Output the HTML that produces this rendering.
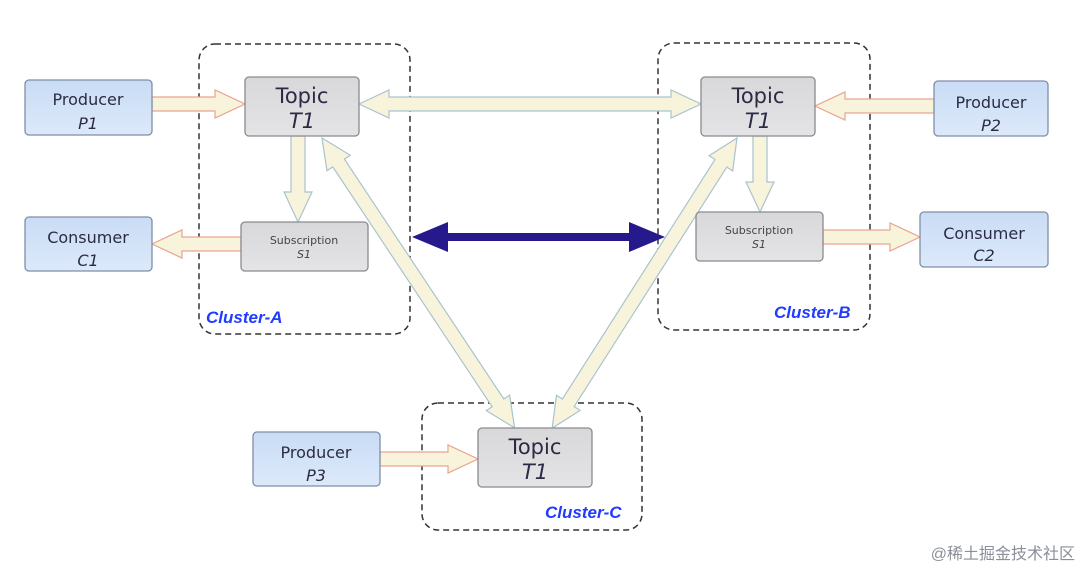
<!DOCTYPE html>
<html><head><meta charset="utf-8"><style>
html,body{margin:0;padding:0;background:#fff;}
svg{display:block;font-family:"DejaVu Sans","Liberation Sans",sans-serif;}
</style></head><body>
<svg width="1080" height="582" viewBox="0 0 1080 582" xmlns="http://www.w3.org/2000/svg">
<defs>
<linearGradient id="blue" x1="0" y1="0" x2="0" y2="1"><stop offset="0" stop-color="#c9dcf5"/><stop offset="1" stop-color="#dce9fa"/></linearGradient>
<linearGradient id="gray" x1="0" y1="0" x2="0" y2="1"><stop offset="0" stop-color="#d8d8da"/><stop offset="1" stop-color="#e4e4e6"/></linearGradient>
</defs>
<rect width="1080" height="582" fill="#fff"/>
<g fill="none" stroke="#333" stroke-width="1.5" stroke-dasharray="6,4">
<rect x="199" y="44" width="211" height="290" rx="16"/>
<rect x="658" y="43" width="212" height="287" rx="16"/>
<rect x="422" y="403" width="220" height="127" rx="16"/>
</g>
<g font-family="Liberation Sans,sans-serif" font-weight="bold" font-style="italic" font-size="17" fill="#1f3cff">
<text x="206" y="323">Cluster-A</text>
<text x="774" y="318">Cluster-B</text>
<text x="545" y="518">Cluster-C</text>
</g>
<g fill="#f8f4dc" stroke="#e9a391" stroke-width="1.2">
<polygon transform="translate(152,104)" points="0,-7 63,-7 63,-14 93,0 63,14 63,7 0,7"/>
<polygon transform="translate(241,244) rotate(180)" points="0,-7 59,-7 59,-14 89,0 59,14 59,7 0,7"/>
<polygon transform="translate(934,106) rotate(180)" points="0,-7 89,-7 89,-14 119,0 89,14 89,7 0,7"/>
<polygon transform="translate(823,237)" points="0,-7 67,-7 67,-14 97,0 67,14 67,7 0,7"/>
<polygon transform="translate(380,459)" points="0,-7 68,-7 68,-14 98,0 68,14 68,7 0,7"/>
</g>
<g fill="#f8f4dc" stroke="#a9c3cf" stroke-width="1.2">
<polygon transform="translate(298,136) rotate(90)" points="0,-7 56,-7 56,-14 86,0 56,14 56,7 0,7"/>
<polygon transform="translate(760,136) rotate(90)" points="0,-7 46,-7 46,-14 76,0 46,14 46,7 0,7"/>
<polygon transform="translate(359,104)" points="0,0 30,-14 30,-7 312,-7 312,-14 342,0 312,14 312,7 30,7 30,14"/>
<polygon transform="translate(322,138) rotate(56.4)" points="0,0 30,-14 30,-7 318,-7 318,-14 348,0 318,14 318,7 30,7 30,14"/>
<polygon transform="translate(737,138) rotate(122.5)" points="0,0 30,-14 30,-7 314,-7 314,-14 344,0 314,14 314,7 30,7 30,14"/>
</g>
<polygon transform="translate(412,237)" fill="#25198c" points="0,0 36,-15 36,-4 217,-4 217,-15 253,0 217,15 217,4 36,4 36,15"/>
<g stroke="#7f8ea6" stroke-width="1.3">
<rect x="25" y="80" width="127" height="55" rx="4" fill="url(#blue)"/>
<rect x="25" y="217" width="127" height="54" rx="4" fill="url(#blue)"/>
<rect x="934" y="81" width="114" height="55" rx="4" fill="url(#blue)"/>
<rect x="920" y="212" width="128" height="55" rx="4" fill="url(#blue)"/>
<rect x="253" y="432" width="127" height="54" rx="4" fill="url(#blue)"/>
</g>
<g stroke="#8a8a90" stroke-width="1.3" fill="url(#gray)">
<rect x="245" y="77" width="114" height="59" rx="4"/>
<rect x="241" y="222" width="127" height="49" rx="4"/>
<rect x="701" y="77" width="114" height="59" rx="4"/>
<rect x="696" y="212" width="127" height="49" rx="4"/>
<rect x="478" y="428" width="114" height="59" rx="4"/>
</g>
<g fill="#2b2b45" text-anchor="middle">
<g font-size="16">
<text x="88" y="105">Producer</text><text x="88" y="129" font-style="italic">P1</text>
<text x="88" y="243">Consumer</text><text x="88" y="266" font-style="italic">C1</text>
<text x="991" y="108">Producer</text><text x="991" y="131" font-style="italic">P2</text>
<text x="984" y="239">Consumer</text><text x="984" y="261" font-style="italic">C2</text>
<text x="316" y="458">Producer</text><text x="316" y="481" font-style="italic">P3</text>
</g>
<g font-size="21">
<text x="302" y="103">Topic</text><text x="302" y="128" font-style="italic">T1</text>
<text x="758" y="103">Topic</text><text x="758" y="128" font-style="italic">T1</text>
<text x="535" y="454">Topic</text><text x="535" y="479" font-style="italic">T1</text>
</g>
<g font-size="11" fill="#444">
<text x="304" y="244">Subscription</text><text x="304" y="258" font-style="italic">S1</text>
<text x="759" y="234">Subscription</text><text x="759" y="248" font-style="italic">S1</text>
</g>
</g>
<text x="1075" y="559" text-anchor="end" font-family="Liberation Sans,'Noto Sans CJK SC',sans-serif" font-size="16" fill="#8a8f99">@稀土掘金技术社区</text>
</svg>
</body></html>
